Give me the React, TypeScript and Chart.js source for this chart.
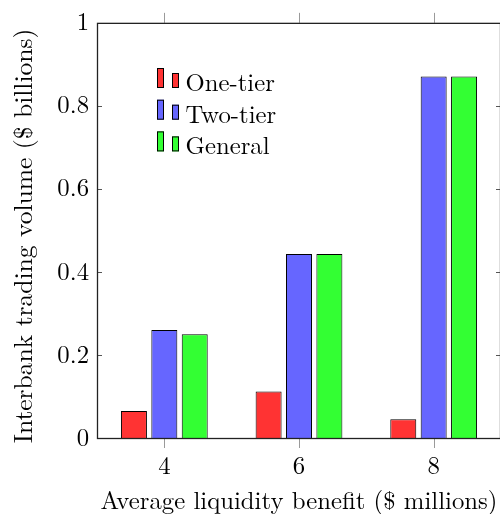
import React, { useEffect, useRef } from "react";
import { Chart, registerables } from "chart.js";

Chart.register(...registerables);

const categories = ["4", "6", "8"];
const oneTier = [0.065, 0.112, 0.045];
const twoTier = [0.26, 0.443, 0.871];
const general = [0.25, 0.443, 0.871];
const yTicks = [0, 0.2, 0.4, 0.6, 0.8, 1];
const seriesNames = ["One-tier", "Two-tier", "General"];
const seriesColors = ["#ff3333", "#6666ff", "#33ff33"];
const xTitle = "Average liquidity benefit ($ millions)";
const yTitle = "Interbank trading volume ($ billions)";

const FONT = "'Latin Modern Roman', 'Liberation Serif', serif";
const FONT_SIZE = 24.75;
const Y_TITLE_SIZE = 25.5;
const CW = 520;
const CH = 540;

const framePlugin = {
  id: "frame",
  afterDatasetsDraw(chart: any) {
    const { ctx, chartArea } = chart;
    const { left, right, top, bottom } = chartArea;
    const xs = chart.scales.x;
    const ys = chart.scales.y;
    const line = (x1: number, y1: number, x2: number, y2: number) => {
      ctx.beginPath();
      ctx.moveTo(x1, y1);
      ctx.lineTo(x2, y2);
      ctx.stroke();
    };
    ctx.save();
    ctx.lineWidth = 1;
    ctx.strokeStyle = "#9a9a9a";
    categories.forEach((_, i) => {
      const px = Math.round(xs.getPixelForValue(i)) + 0.5;
      line(px, top - 10, px, top);
      line(px, bottom, px, bottom + 10);
    });
    ctx.strokeStyle = "#555";
    yTicks.forEach((v) => {
      const py = Math.round(ys.getPixelForValue(v)) + 0.5;
      line(left, py, left + 5, py);
      line(right - 5, py, right, py);
    });
    ctx.strokeStyle = "#222";
    ctx.lineWidth = 1.3;
    ctx.strokeRect(left + 0.5, top + 0.5, right - left - 1, bottom - top);
    ctx.restore();
  },
};

const titlesPlugin = {
  id: "texTitles",
  afterDraw(chart: any) {
    const { ctx, chartArea } = chart;
    const { left, right, top, bottom } = chartArea;
    ctx.save();
    ctx.fillStyle = "#000";
    ctx.textAlign = "center";
    ctx.textBaseline = "alphabetic";
    ctx.font = `${FONT_SIZE}px ${FONT}`;
    ctx.fillText(xTitle, (left + right) / 2, bottom + 71);
    ctx.translate(31.5, (top + bottom) / 2 + 5.5);
    ctx.rotate(-Math.PI / 2);
    ctx.font = `${Y_TITLE_SIZE}px ${FONT}`;
    ctx.fillText(yTitle, 0, 0);
    ctx.restore();
  },
};

const legendPlugin = {
  id: "texLegend",
  afterDatasetsDraw(chart: any) {
    const { ctx } = chart;
    ctx.save();
    ctx.font = `${FONT_SIZE}px ${FONT}`;
    ctx.textBaseline = "alphabetic";
    ctx.textAlign = "left";
    chart.data.datasets.forEach((ds: any, i: number) => {
      const dy = i * 31.7;
      ctx.fillStyle = ds.backgroundColor;
      ctx.strokeStyle = "#000";
      ctx.lineWidth = 1;
      ctx.fillRect(157, 68 + dy, 7, 20);
      ctx.strokeRect(157.5, 68.5 + dy, 6, 19);
      ctx.fillRect(172, 73 + dy, 7, 15);
      ctx.strokeRect(172.5, 73.5 + dy, 6, 14);
      ctx.fillStyle = "#000";
      ctx.fillText(ds.label, 185.5, 91 + dy);
    });
    ctx.restore();
  },
};

export default function App() {
  const ref = useRef<HTMLCanvasElement | null>(null);
  useEffect(() => {
    if (!ref.current) return;
    const values = [oneTier, twoTier, general];
    const chart = new Chart(ref.current, {
      type: "bar",
      data: {
        labels: categories,
        datasets: seriesNames.map((name, i) => ({
          label: name,
          data: values[i],
          backgroundColor: seriesColors[i],
          borderColor: "#000",
          borderWidth: 1,
          categoryPercentage: 0.677,
          barPercentage: 0.855,
        })),
      },
      options: {
        animation: false,
        responsive: false,
        devicePixelRatio: 1,
        layout: { padding: { left: 0, top: 20, right: CW - 501, bottom: 0 } },
        plugins: { legend: { display: false }, tooltip: { enabled: false } },
        scales: {
          x: {
            type: "category",
            grid: { display: false, drawTicks: false },
            border: { display: false },
            ticks: {
              padding: 14,
              color: "#000",
              font: { family: FONT, size: FONT_SIZE },
            },
            title: { display: false, text: xTitle },
            afterFit(scale: any) {
              scale.height = CH - 438;
            },
          },
          y: {
            min: 0,
            max: 1,
            grid: { display: false, drawTicks: false },
            border: { display: false },
            afterBuildTicks(scale: any) {
              scale.ticks = yTicks.map((v) => ({ value: v }));
            },
            ticks: {
              padding: 8,
              color: "#000",
              font: { family: FONT, size: FONT_SIZE },
              callback: (v: any) => String(Math.round(Number(v) * 10) / 10),
            },
            title: { display: false, text: yTitle },
            afterFit(scale: any) {
              scale.width = 97;
            },
          },
        },
      },
      plugins: [framePlugin, legendPlugin, titlesPlugin],
    });
    return () => chart.destroy();
  }, []);
  return (
    <div
      style={{
        position: "fixed",
        left: 0,
        top: 0,
        width: 500,
        height: 514,
        overflow: "hidden",
        background: "#fff",
      }}
    >
      <canvas ref={ref} width={CW} height={CH} style={{ display: "block" }} />
    </div>
  );
}
